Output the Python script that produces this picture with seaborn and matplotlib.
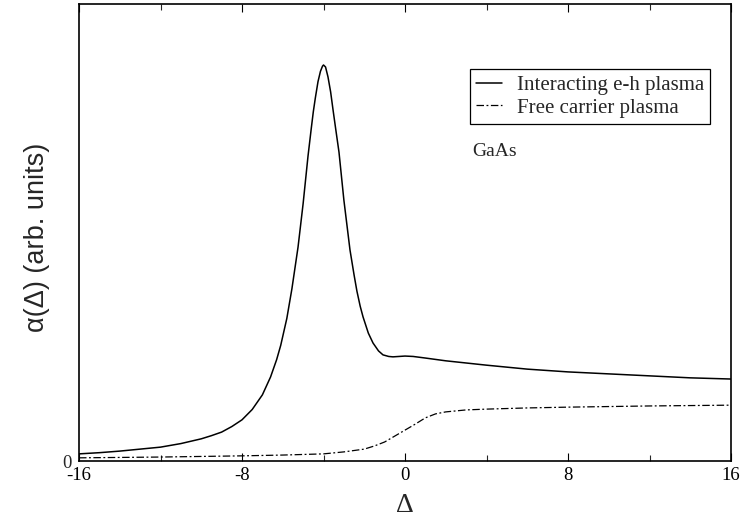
import matplotlib
matplotlib.use("Agg")
import matplotlib.pyplot as plt
import seaborn as sns
import pandas as pd
from matplotlib.ticker import MultipleLocator

# Interacting e-h plasma (peak normalised to 1)
delta_eh = [-16, -15, -14, -13, -12, -11, -10, -9.5, -9, -8.5, -8, -7.5, -7, -6.6,
            -6.3, -6.1, -5.8, -5.55, -5.25, -5.0, -4.76, -4.6, -4.5, -4.4, -4.27,
            -4.15, -4.05, -4.0, -3.9, -3.78, -3.65, -3.53, -3.4, -3.24, -3.0, -2.85,
            -2.7, -2.5, -2.36, -2.2, -2.06, -1.8, -1.57, -1.3, -1.08, -0.8, -0.59,
            0, 0.4, 1, 2, 4, 6, 8, 10, 12, 14, 16]
alpha_eh = [0.018, 0.021, 0.025, 0.030, 0.035, 0.044, 0.056, 0.064, 0.073, 0.087,
            0.104, 0.130, 0.167, 0.212, 0.256, 0.292, 0.360, 0.435, 0.540, 0.650,
            0.770, 0.840, 0.882, 0.917, 0.958, 0.984, 0.997, 1.0, 0.995, 0.970,
            0.932, 0.886, 0.838, 0.780, 0.659, 0.596, 0.533, 0.470, 0.429, 0.391,
            0.364, 0.323, 0.298, 0.278, 0.268, 0.264, 0.263, 0.265, 0.264, 0.260,
            0.253, 0.242, 0.232, 0.225, 0.220, 0.215, 0.210, 0.207]

# Free carrier plasma
delta_fc = [-16, -12, -8, -6, -4, -3, -2, -1.5, -1, -0.5, 0, 0.5, 1, 1.5, 2, 3, 4,
            6, 8, 12, 16]
alpha_fc = [0.008, 0.010, 0.013, 0.015, 0.018, 0.023, 0.030, 0.038, 0.048, 0.063,
            0.078, 0.093, 0.109, 0.119, 0.124, 0.129, 0.131, 0.134, 0.136, 0.139,
            0.141]

xticks = [-16, -8, 0, 8, 16]
xticklabels = ["-16", "-8", "0", "8", "16"]

sns.set_theme(style="ticks")
plt.rcParams["font.family"] = ["Liberation Serif", "DejaVu Serif"]

fig = plt.figure(figsize=(7.42, 5.29), dpi=100)
ax = fig.add_axes([79 / 742, 68 / 529, 652 / 742, 457 / 529])

df_eh = pd.DataFrame({"delta": delta_eh, "alpha": alpha_eh})
df_fc = pd.DataFrame({"delta": delta_fc, "alpha": alpha_fc})

sns.lineplot(data=df_eh, x="delta", y="alpha", ax=ax, color="black", lw=1.1,
             label="Interacting e-h plasma", estimator=None, sort=False)
sns.lineplot(data=df_fc, x="delta", y="alpha", ax=ax, color="black", lw=0.9,
             label="Free carrier plasma", estimator=None, sort=False)
ax.lines[0].set_solid_joinstyle("round")
ax.lines[1].set_linestyle((0, (6, 2, 1.5, 2)))

ax.set_xlim(-16, 16)
ax.set_ylim(0, 457 / 396)
ax.set_xticks(xticks)
ax.set_xticklabels(xticklabels, fontsize=13.5)
ax.xaxis.set_minor_locator(MultipleLocator(4))
ax.set_yticks([0])
ax.set_yticklabels(["0"], fontsize=13.5)
ax.tick_params(axis="x", which="major", direction="in", length=6, width=0.8,
               top=True, pad=4, colors="black")
ax.tick_params(axis="x", which="minor", direction="in", length=4, width=0.8,
               top=True)
ax.tick_params(axis="y", which="major", direction="in", length=0, pad=5)
for s in ax.spines.values():
    s.set_visible(True)
    s.set_color("black")
    s.set_linewidth(1.2)

ax.set_xlabel("Δ", fontsize=20)
ax.xaxis.set_label_coords(0.5, -(506 - 461) / 457)
ax.xaxis.label.set_va("center")
ax.set_ylabel("α(Δ) (arb. units)", fontsize=19.5,
              family=["Liberation Sans", "DejaVu Sans"])
ax.yaxis.set_label_coords((37 - 79) / 652, 1 - (237 - 4) / 457)
ax.yaxis.label.set_va("center")

leg = ax.legend(loc="upper left", bbox_to_anchor=((470 - 79) / 652, 1 - (69 - 4) / 457),
                frameon=True, fancybox=False, edgecolor="black", fontsize=15,
                handlelength=1.25, handletextpad=0.7, borderpad=0.3,
                labelspacing=0.15, borderaxespad=0)
leg.get_frame().set_linewidth(0.9)
leg.get_frame().set_alpha(1)

ax.text((472 - 79) / 652, 1 - (151 - 4) / 457, "GaAs", transform=ax.transAxes,
        fontsize=14, va="center", ha="left")

fig.savefig("out.png", dpi=100)
